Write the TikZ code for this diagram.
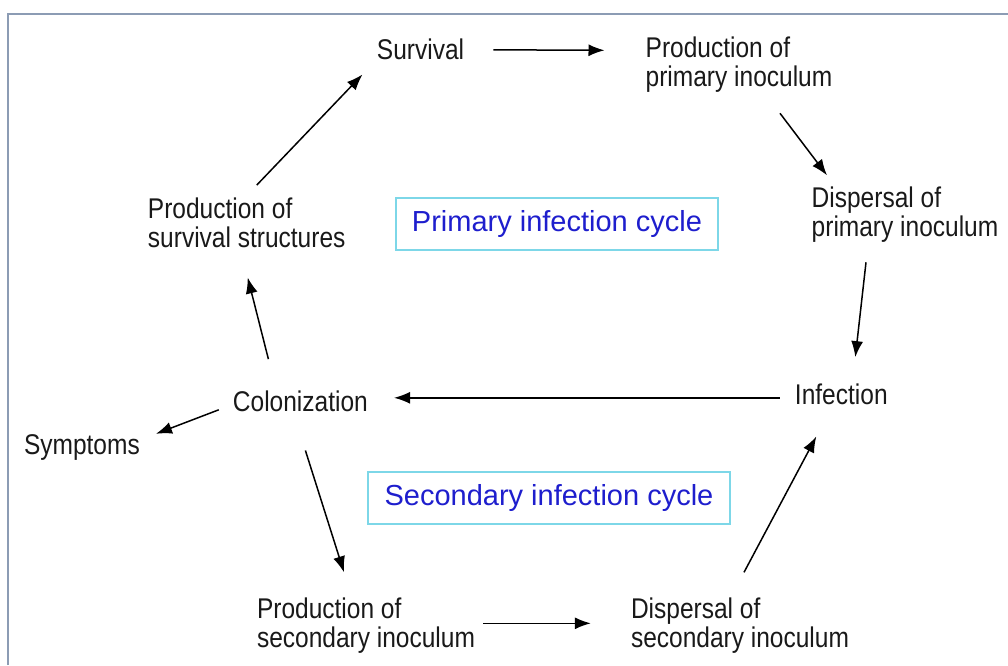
\documentclass[tikz,border=0pt]{standalone}
\usepackage{fontspec}
\setmainfont{Liberation Sans}
\newfontfamily\stagefont[FakeStretch=0.86]{Liberation Sans}
\usetikzlibrary{arrows.meta}
\definecolor{framecol}{RGB}{140,156,180}
\definecolor{cycdraw}{RGB}{125,215,232}
\definecolor{cyctext}{RGB}{30,30,205}
\tikzset{
	stage/.style={font=\stagefont\fontsize{28.5}{29}\selectfont,align=left,inner sep=0pt,text=black!90},
	arr/.style={line width=1.5pt,-{Latex[length=16pt,width=12pt]}},
	cycle/.style={draw=cycdraw,line width=1.6pt,text=cyctext,font=\fontsize{29}{34}\selectfont,inner sep=0pt,minimum height=52pt}
}
\begin{document}
\begin{tikzpicture}[x=1pt,y=-1pt]
	\useasboundingbox(0,0)rectangle(1008,665);
	\draw[framecol,line width=2pt](8,665)--(8,14)--(1008,14);
	\node[stage](surv)at(420.5,49.8){Survival};
	\node[stage](ppri)at(739,64.3){Production of\\primary inoculum};
	\node[stage](dpri)at(905,214.3){Dispersal of\\primary inoculum};
	\node[stage](infe)at(841.3,394.8){Infection};
	\node[stage](colo)at(300.4,401.8){Colonization};
	\node[stage](symp)at(81.9,447.8){Symptoms};
	\node[stage](psur)at(246.7,223.3){Production of\\survival structures};
	\node[stage](psec)at(366,625.3){Production of\\secondary inoculum};
	\node[stage](dsec)at(740,625.3){Dispersal of\\secondary inoculum};
	\node[cycle,minimum width=322pt](prim)at(557,224){Primary infection cycle};
	\node[cycle,minimum width=362pt](seco)at(549,498){Secondary infection cycle};
	\draw[arr]([xshift=29]surv.east)--([xshift=-41,yshift=14]ppri.west);
	\draw[arr]([xshift=41,yshift=-21]ppri.south)--([xshift=-78,yshift=11]dpri.north);
	\draw[arr]([xshift=-39,yshift=-20]dpri.south)--([xshift=14,yshift=27]infe.north);
	\draw[arr]([xshift=-15,yshift=-3]infe.west)--([xshift=26,yshift=4]colo.east);
	\draw[arr]([xshift=-32,yshift=32]colo.north)--([xshift=1,yshift=-29]psur.south);
	\draw[arr]([xshift=10,yshift=13]psur.north)--([xshift=-58,yshift=-14]surv.south);
	\draw[arr]([xshift=-14,yshift=-8]colo.west)--([xshift=16,yshift=14]symp.east);
	\draw[arr]([xshift=5,yshift=-38]colo.south)--([xshift=-22,yshift=25]psec.north);
	\draw[arr]([xshift=8,yshift=2]psec.east)--([xshift=-40,yshift=2]dsec.west);
	\draw[arr]([xshift=4,yshift=25]dsec.north)--([xshift=-25,yshift=-31]infe.south);
\end{tikzpicture}
\end{document}
